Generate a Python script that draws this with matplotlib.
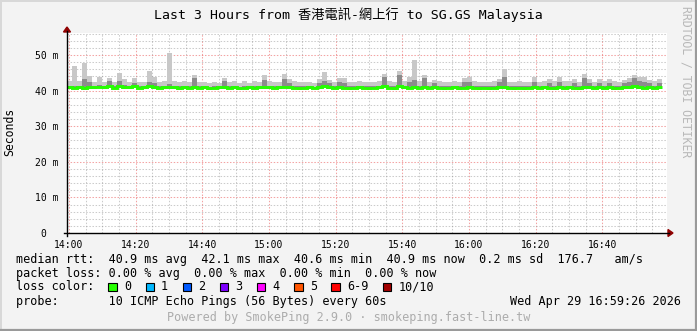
import matplotlib
matplotlib.use('Agg')
import matplotlib.pyplot as plt
from matplotlib.lines import Line2D
from matplotlib.patches import Rectangle, Polygon
import numpy as np

# ---------------- data ----------------
title = "Last 3 Hours from 香港電訊-網上行 to SG.GS Malaysia"
start_min = -34 / 60.0      # 13:59:26 relative to 14:00 (minutes)
step_min = 1.5              # width of each smoke bin (minutes)

top_ms = [
    42.6, 46.9, 42.6, 47.8, 44.1, 42.4, 43.8, 42.5, 43.4, 42.3, 45.0, 43.3, 42.3, 43.5, 42.5, 42.4, 45.5, 43.8, 42.4, 42.7,
    50.5, 42.6, 42.3, 42.7, 42.4, 44.4, 42.5, 42.3, 42.2, 42.4, 42.2, 43.6, 42.3, 42.7, 42.2, 42.7, 42.2, 42.6, 42.3, 44.4,
    42.6, 42.3, 42.4, 44.7, 43.3, 42.7, 42.3, 42.4, 42.5, 42.2, 43.2, 45.2, 43.0, 42.3, 43.6, 43.6, 42.3, 42.3, 42.6, 42.5,
    42.3, 42.5, 42.7, 44.7, 42.6, 42.4, 45.5, 42.6, 43.8, 48.6, 42.7, 44.4, 42.5, 43.0, 42.6, 42.5, 42.3, 42.6, 42.4, 43.5,
    43.8, 42.7, 42.5, 42.3, 42.4, 42.7, 43.3, 46.0, 42.5, 42.4, 42.7, 42.4, 42.3, 43.8, 42.4, 42.7, 43.2, 42.7, 43.8, 42.6,
    42.7, 43.3, 42.5, 44.7, 43.3, 42.4, 43.3, 42.6, 43.3, 42.7, 42.4, 42.9, 43.5, 44.4, 43.8, 43.8, 43.0, 42.7, 43.3,
]
mid_ms = [
    41.2, 41.3, 41.2, 43.2, 42.3, 41.2, 41.6, 41.2, 42.8, 41.2, 42.6, 41.5, 41.2, 42.0, 41.2, 41.2, 42.4, 42.1, 41.2, 41.2,
    41.8, 41.2, 41.2, 41.2, 41.2, 43.6, 41.2, 41.2, 41.1, 41.2, 41.1, 42.6, 41.2, 41.4, 41.1, 41.2, 41.1, 41.2, 41.2, 43.0,
    41.2, 41.2, 41.2, 43.3, 42.2, 41.3, 41.2, 41.2, 41.2, 41.1, 42.1, 42.8, 42.0, 41.2, 42.3, 42.2, 41.2, 41.2, 41.2, 41.2,
    41.2, 41.2, 41.4, 43.8, 41.2, 41.2, 44.3, 41.2, 42.4, 43.0, 41.3, 43.6, 41.2, 42.1, 41.2, 41.2, 41.2, 41.2, 41.2, 42.3,
    42.4, 41.3, 41.2, 41.2, 41.2, 41.3, 42.4, 43.8, 41.2, 41.2, 41.3, 41.2, 41.2, 42.4, 41.2, 41.3, 42.2, 41.3, 42.3, 41.2,
    41.3, 42.1, 41.2, 43.4, 42.2, 41.2, 42.0, 41.2, 42.1, 41.3, 41.2, 42.0, 42.3, 43.5, 42.6, 42.4, 42.0, 41.3, 42.2,
]
median_ms = [
    40.9, 40.8, 40.9, 40.7, 41.0, 40.9, 41.1, 40.9, 41.2, 40.8, 41.3, 41.0, 40.9, 41.2, 40.8, 40.9, 41.3, 41.0, 40.8, 40.9,
    41.0, 40.9, 40.7, 40.9, 40.8, 41.0, 40.8, 40.9, 40.7, 40.8, 40.9, 41.0, 40.8, 40.9, 40.7, 40.8, 40.9, 40.8, 40.9, 41.0,
    40.9, 40.8, 40.9, 41.1, 40.9, 40.8, 40.7, 40.8, 40.9, 40.8, 40.9, 41.2, 41.0, 40.8, 40.9, 40.8, 40.7, 40.8, 40.9, 40.8,
    40.7, 40.8, 40.9, 41.2, 40.8, 40.7, 41.3, 40.9, 40.8, 41.0, 40.8, 41.1, 40.8, 40.9, 40.8, 40.7, 40.8, 40.9, 40.7, 40.8,
    40.9, 40.8, 40.7, 40.8, 40.7, 40.8, 40.9, 41.0, 40.8, 40.7, 40.8, 40.7, 40.8, 41.0, 40.8, 40.9, 40.8, 40.7, 41.0, 40.8,
    40.9, 40.8, 40.7, 41.0, 40.9, 40.8, 40.9, 40.8, 40.9, 40.7, 40.8, 40.9, 41.0, 41.2, 40.9, 40.8, 40.9, 40.8, 40.9,
]
low_ms = [
    40.5, 40.4, 40.5, 40.3, 40.5, 40.5, 40.6, 40.5, 40.6, 40.4, 40.7, 40.5, 40.5, 40.6, 40.4, 40.5, 40.7, 40.5, 40.4, 40.5,
    40.5, 40.5, 40.3, 40.5, 40.4, 40.5, 40.4, 40.5, 40.3, 40.4, 40.5, 40.5, 40.4, 40.5, 40.3, 40.4, 40.5, 40.4, 40.5, 40.5,
    40.5, 40.4, 40.5, 40.6, 40.5, 40.4, 40.3, 40.4, 40.5, 40.4, 40.5, 40.6, 40.5, 40.4, 40.5, 40.4, 40.3, 40.4, 40.5, 40.4,
    40.3, 40.4, 40.5, 40.6, 40.4, 40.3, 40.7, 40.5, 40.4, 40.5, 40.4, 40.6, 40.4, 40.5, 40.4, 40.3, 40.4, 40.5, 40.3, 40.4,
    40.5, 40.4, 40.3, 40.4, 40.3, 40.4, 40.5, 40.5, 40.4, 40.3, 40.4, 40.3, 40.4, 40.5, 40.4, 40.5, 40.4, 40.3, 40.5, 40.4,
    40.5, 40.4, 40.3, 40.5, 40.5, 40.4, 40.5, 40.4, 40.5, 40.3, 40.4, 40.5, 40.5, 40.6, 40.5, 40.4, 40.5, 40.4, 40.5,
]

x_ticks_min = [0, 20, 40, 60, 80, 100, 120, 140, 160]
x_tick_labels = ["14:00", "14:20", "14:40", "15:00", "15:20", "15:40", "16:00", "16:20", "16:40"]
y_ticks_ms = [0, 10, 20, 30, 40, 50]
y_tick_labels = ["0  ", "10 m", "20 m", "30 m", "40 m", "50 m"]

legend_lines = [
    "median rtt:  40.9 ms avg  42.1 ms max  40.6 ms min  40.9 ms now  0.2 ms sd  176.7   am/s",
    "packet loss: 0.00 % avg  0.00 % max  0.00 % min  0.00 % now",
    "loss color:",
    "probe:       10 ICMP Echo Pings (56 Bytes) every 60s",
]
loss_labels = ["0", "1", "2", "3", "4", "5", "6-9", "10/10"]
loss_colors = ["#26ff00", "#00b8ff", "#0059ff", "#7e00ff", "#ff00ff", "#ff5500", "#ff0000", "#a10000"]
date_text = "Wed Apr 29 16:59:26 2026"
footer = "Powered by SmokePing 2.9.0 · smokeping.fast-line.tw"
side_text = "RRDTOOL / TOBI OETIKER"

# ---------------- figure ----------------
W, H = 697, 331
fig = plt.figure(figsize=(W / 100, H / 100), dpi=100)
fig.patch.set_facecolor('#f3f3f3')

def P(x, y):
    return (x / W, 1 - y / H)

L, R, T, B = 67, 667, 33, 233
ax = fig.add_axes([L / W, 1 - B / H, (R - L) / W, (B - T) / H])
ax.set_facecolor('white')
span = 180.0
ax.set_xlim(start_min, start_min + span)
ymax = (B - T) / 3.56
ax.set_ylim(0, ymax)

# grid
minor_c = (0.55, 0.55, 0.55, 0.45)
major_c = (0.9, 0.2, 0.2, 0.45)
dash = (0, (1.4, 1.6))
for m in range(0, 180, 5):
    if m % 20:
        ax.axvline(m, color=minor_c, lw=0.75, ls=dash, zorder=1)
for m in x_ticks_min:
    ax.axvline(m, color=major_c, lw=0.75, ls=dash, zorder=1)
for v in range(2, 57, 2):
    if v % 10:
        ax.axhline(v, color=minor_c, lw=0.75, ls=dash, zorder=1)
for v in y_ticks_ms[1:]:
    ax.axhline(v, color=major_c, lw=0.75, ls=dash, zorder=1)

n = len(top_ms)
edges = start_min + step_min * np.arange(n + 1)
ax.stairs(top_ms, edges, baseline=low_ms, fill=True, color='#c8c8c8', zorder=2)
ax.stairs(mid_ms, edges, baseline=low_ms, fill=True, color='#8c8c8c', zorder=3)
ax.stairs(median_ms, edges, color='#26ff00', lw=2.1, zorder=5, baseline=None)

for s in ax.spines.values():
    s.set_visible(False)
mono = 'DejaVu Sans Mono'
ax.set_xticks(x_ticks_min)
ax.set_xticklabels(x_tick_labels, family=mono, fontsize=7)
ax.set_yticks(y_ticks_ms)
ax.set_yticklabels(y_tick_labels, family=mono, fontsize=7)
ax.tick_params(axis='both', length=0, pad=6)
ax.tick_params(axis='x', pad=5)

# axis lines with arrows
axis_c = '#000000'
arrow_c = '#900000'
fig.add_artist(Line2D([64 / W, 669 / W], [1 - B / H, 1 - B / H], color=axis_c, lw=1.0))
fig.add_artist(Line2D([L / W, L / W], [1 - 236 / H, 1 - 31 / H], color=axis_c, lw=1.0))
fig.add_artist(Polygon([P(668, 229.5), P(673, 233), P(668, 236.5)], closed=True,
                       transform=fig.transFigure, color=arrow_c))
fig.add_artist(Polygon([P(63.5, 32), P(67, 27), P(70.5, 32)], closed=True,
                       transform=fig.transFigure, color=arrow_c))

# texts
cjk = [mono, 'Noto Sans CJK TC']
fig.text(*P(348.5, 15), title, family=cjk, fontsize=9.5, ha='center', va='center')
fig.text(*P(10, 132), "Seconds", family=mono, fontsize=8.3, rotation=90, ha='center', va='center')
fig.text(*P(686, 82), side_text, family=mono, fontsize=8.3, rotation=270,
         ha='center', va='center', color='#b8b8b8')

ys = [259, 273, 287, 301]
for line, y in zip(legend_lines, ys):
    fig.text(*P(16, y), line, family=mono, fontsize=8.5, ha='left', va='center')
fig.text(*P(681, 301), date_text, family=mono, fontsize=8.5, ha='right', va='center')

cw = 7.1
x0 = 108.3
for lab, col in zip(loss_labels, loss_colors):
    fig.add_artist(Rectangle(P(x0, 291.3), 8.4 / W, 8.4 / H, transform=fig.transFigure,
                             facecolor=col, edgecolor='black', lw=0.8))
    fig.text(*P(x0 + 15.5, 287), lab, family=mono, fontsize=8.5, ha='left', va='center')
    x0 += 30.1 + cw * len(lab)

fig.text(*P(348.5, 318), footer, family=mono, fontsize=8.5, ha='center', va='center', color='#acacac')

# frame shading
fig.add_artist(Line2D([0, 1], [1 - 0.5 / H, 1 - 0.5 / H], color='#d8d8d8', lw=1.4))
fig.add_artist(Line2D([0.5 / W, 0.5 / W], [0, 1], color='#d8d8d8', lw=1.4))
fig.add_artist(Line2D([0, 1], [1.0 / H, 1.0 / H], color='#9a9a9a', lw=1.6))
fig.add_artist(Line2D([1 - 1.0 / W, 1 - 1.0 / W], [0, 1], color='#9a9a9a', lw=1.6))

fig.savefig('out.png', dpi=100, facecolor=fig.get_facecolor())
